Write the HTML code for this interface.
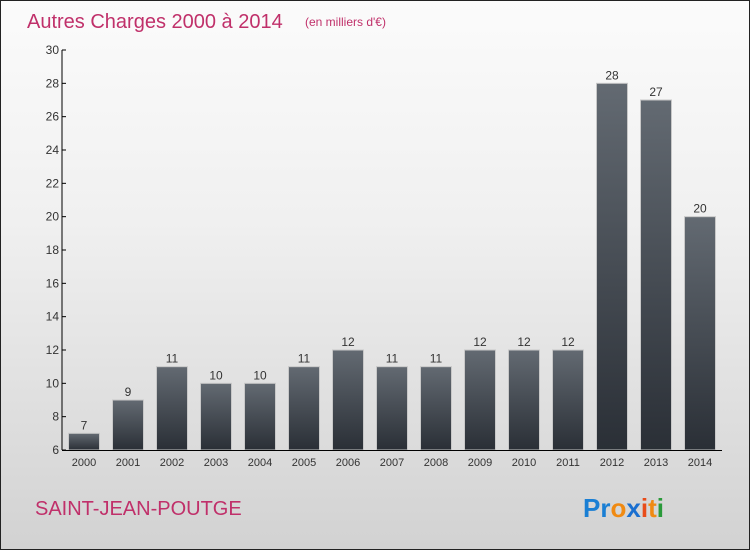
<!DOCTYPE html>
<html><head><meta charset="utf-8"><style>
body{margin:0;width:750px;height:550px;overflow:hidden}
#wrap{position:relative;width:748px;height:548px;border:1px solid #222;background:linear-gradient(#fbfbfb,#f0f0f0 40%,#d2d2d2);font-family:"Liberation Sans",sans-serif}
</style></head><body>
<div id="wrap">
<svg width="748" height="548">
<defs><linearGradient id="bg" x1="0" y1="0" x2="0" y2="1"><stop offset="0" stop-color="#636a72"/><stop offset="1" stop-color="#2a2f36"/></linearGradient></defs>
<text x="26" y="27" font-size="20" fill="#c0306a">Autres Charges 2000 à 2014</text>
<text x="304" y="25" font-size="12" fill="#c0306a">(en milliers d'€)</text>
<g id="plot"></g>
<text x="34" y="514" font-size="20" fill="#c0306a">SAINT-JEAN-POUTGE</text>
<g font-size="26" font-weight="bold">
<text x="582" y="516"><tspan fill="#1a7fd4">Pr</tspan><tspan fill="#f08a12">o</tspan><tspan fill="#1a6fd0">x</tspan><tspan fill="#e84c1a">i</tspan><tspan fill="#f08a12">t</tspan><tspan fill="#2a9a3a">i</tspan></text>
</g>
</svg></div>
<script>
const categories=["2000","2001","2002","2003","2004","2005","2006","2007","2008","2009","2010","2011","2012","2013","2014"];
const values=[7,9,11,10,10,11,12,11,11,12,12,12,28,27,20];
const yTicks=[6,8,10,12,14,16,18,20,22,24,26,28,30];
const NS="http://www.w3.org/2000/svg";
const g=document.getElementById('plot');
const x0=61,x1=721,yTop=49,yBot=449,yMin=6,yMax=30;
const y=v=>yBot-(v-yMin)/(yMax-yMin)*(yBot-yTop);
const step=(x1-x0)/categories.length;
const xc=i=>x0+step*(i+0.5);
function mk(t,a){const e=document.createElementNS(NS,t);for(const k in a)e.setAttribute(k,a[k]);g.appendChild(e);return e;}
categories.forEach((c,i)=>{
 const b=mk('rect',{x:xc(i)-15.5,y:y(values[i]),width:31,height:yBot-y(values[i]),fill:'url(#bg)',stroke:'#c8c8c8','stroke-width':1});
 
 
 const t=mk('text',{x:xc(i),y:y(values[i])-4,'font-size':12,fill:'#333','text-anchor':'middle'});t.textContent=values[i];
 
 
 const l=mk('text',{x:xc(i),y:yBot+16,'font-size':11,fill:'#333','text-anchor':'middle'});l.textContent=c;
 
 
});
yTicks.forEach(v=>{
 const tk=mk('line',{x1:x0,x2:x0+4,y1:y(v),y2:y(v),stroke:'#000'});
 
 
 const t=mk('text',{x:x0-3,y:y(v)+4,'font-size':12,fill:'#333','text-anchor':'end'});t.textContent=v;
 
 
});
const ya=mk('line',{x1:x0,x2:x0,y1:yTop,y2:yBot,stroke:'#000'});


const xa=mk('line',{x1:x0,x2:x1,y1:yBot+0.5,y2:yBot+0.5,stroke:'#000'});


</script>
</body></html>
